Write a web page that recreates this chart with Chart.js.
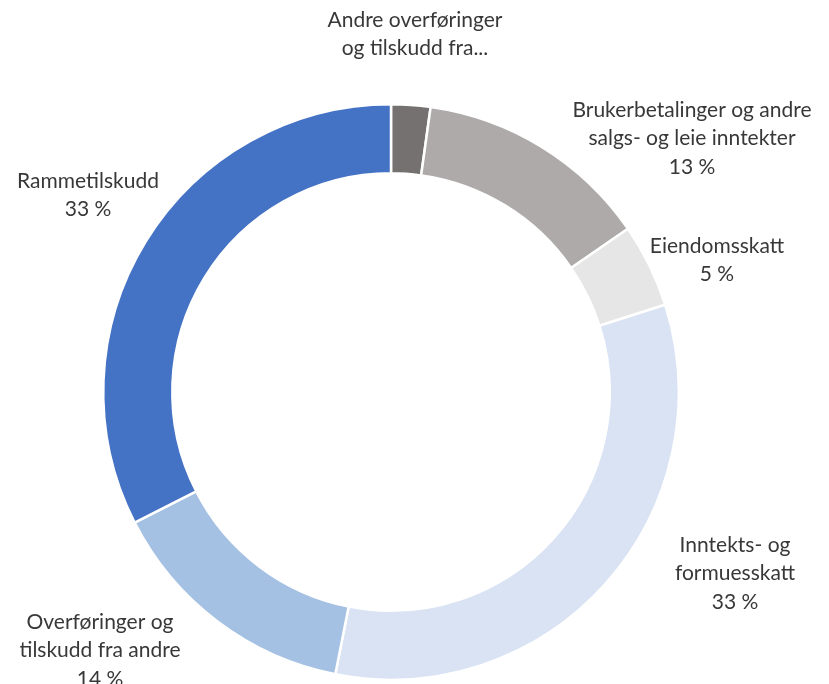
<!DOCTYPE html>
<html>
<head>
<meta charset="utf-8">
<script src="https://cdn.jsdelivr.net/npm/chart.js@4"></script>
<style>
  body { margin: 0; background: #fff; }
  canvas { display: block; }
</style>
</head>
<body>
<canvas id="chart" width="829" height="684"></canvas>
<script>
// andel av driftsinntekter, i prosent
const categories = [
  "Andre overføringer og tilskudd fra andre",
  "Brukerbetalinger og andre salgs- og leie inntekter",
  "Eiendomsskatt",
  "Inntekts- og formuesskatt",
  "Overføringer og tilskudd fra andre",
  "Rammetilskudd",
]
const shares = [2.2, 13.2, 4.7, 33.0, 14.4, 32.5]
const labelLines = [
  ["Andre overføringer", "og tilskudd fra..."],
  ["Brukerbetalinger og andre", "salgs- og leie inntekter"],
  ["Eiendomsskatt"],
  ["Inntekts- og", "formuesskatt"],
  ["Overføringer og", "tilskudd fra andre"],
  ["Rammetilskudd"],
]
const showPercent = [false, true, true, true, true, true]
const colors = ["#767171", "#aeaaaa", "#e7e6e6", "#dae3f3", "#a4c1e4", "#4472c4"]

// where each label block sits (center x, first line y)
const labelPos = [
  [415, 20],
  [692, 110],
  [717, 246],
  [735, 545],
  [100, 622],
  [88, 181],
]

const outsideLabels = {
  id: "outsideLabels",
  afterDraw(chart) {
    const ctx = chart.ctx
    ctx.save()
    ctx.font = "21px Lato"
    ctx.fillStyle = "#383838"
    ctx.textAlign = "center"
    ctx.textBaseline = "middle"
    const lineH = 28.5
    labelLines.forEach((lines, i) => {
      const rows = lines.slice()
      if (showPercent[i]) rows.push(Math.round(shares[i]) + " %")
      const [x, y] = labelPos[i]
      rows.forEach((t, j) => ctx.fillText(t, x, y + j * lineH))
    })
    ctx.restore()
  },
}

new Chart(document.getElementById("chart"), {
  type: "doughnut",
  data: {
    labels: categories,
    datasets: [
      {
        data: shares,
        backgroundColor: colors,
        borderColor: "#ffffff",
        borderWidth: 2.5,
      },
    ],
  },
  options: {
    responsive: false,
    animation: false,
    cutout: "76%",
    layout: { padding: { top: 103, bottom: 3, left: 102, right: 149 } },
    plugins: {
      legend: { display: false },
      tooltip: { enabled: false },
    },
  },
  plugins: [outsideLabels],
})
</script>
</body>
</html>
